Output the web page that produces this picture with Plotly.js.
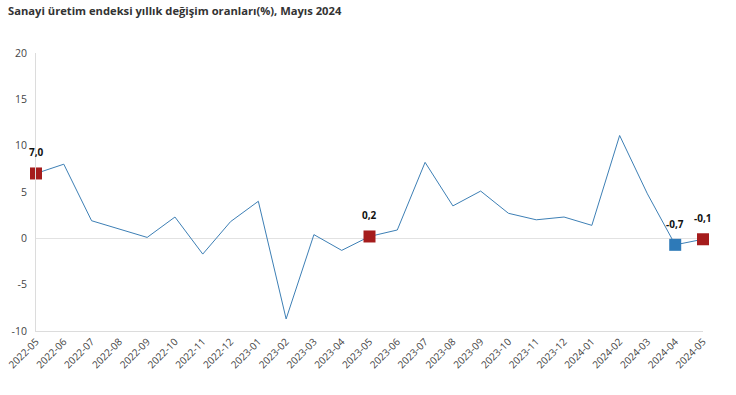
<!DOCTYPE html>
<html><head><meta charset="utf-8">
<script src="https://cdn.plot.ly/plotly-3.0.1.min.js"></script>
<style>html,body{margin:0;padding:0;background:#fff}#c{width:736px;height:395px}</style>
</head><body><div id="c"></div>
<script>
const months = ["2022-05","2022-06","2022-07","2022-08","2022-09","2022-10","2022-11","2022-12","2023-01","2023-02","2023-03","2023-04","2023-05","2023-06","2023-07","2023-08","2023-09","2023-10","2023-11","2023-12","2024-01","2024-02","2024-03","2024-04","2024-05"];
const values = [7.0,8.0,1.9,1.0,0.1,2.3,-1.7,1.8,4.0,-8.7,0.4,-1.3,0.2,0.9,8.2,3.5,5.1,2.7,2.0,2.3,1.4,11.1,4.8,-0.7,-0.1];
const highlightMonths = ["2022-05","2023-05","2024-04","2024-05"];
const highlightColors = ["#a51c1c","#a51c1c","#2e7ab8","#a51c1c"];
const yTicks = [-10,-5,0,5,10,15,20];

const hx = highlightMonths;
const hy = highlightMonths.map(m => values[months.indexOf(m)]);

const traces = [
  {x: months, y: values, type: 'scatter', mode: 'lines',
   line: {color: '#3d7fb5', width: 1}, hoverinfo: 'skip', cliponaxis: false},
  {x: hx, y: hy, type: 'scatter', mode: 'markers',
   marker: {symbol: 'square', size: 12, color: highlightColors},
   cliponaxis: false}
];

const annotations = hx.map((m, i) => ({
  x: m, y: hy[i], xref: 'x', yref: 'y',
  text: hy[i].toFixed(1).replace('.', ','), showarrow: false,
  yshift: 21, xanchor: 'center', yanchor: 'middle',
  font: {family: 'Open Sans, sans-serif', size: 10, color: '#111', weight: 'bold'}
}));

const layout = {
  width: 736, height: 395,
  margin: {l: 36, r: 33, t: 53, b: 64},
  paper_bgcolor: '#fff', plot_bgcolor: '#fff',
  showlegend: false,
  annotations: annotations,
  title: {text: 'Sanayi üretim endeksi yıllık değişim oranları(%), Mayıs 2024',
          font: {family: 'Open Sans, sans-serif', size: 11.2, color: '#333', weight: 'bold'},
          x: 0.011, xanchor: 'left', y: 0.972, yanchor: 'middle'},
  xaxis: {type: 'category', range: [0, months.length - 1], tickangle: -45,
          showgrid: false, zeroline: false, showline: true, linecolor: '#dcdcdc', linewidth: 1,
          ticks: '', tickfont: {family: 'Open Sans, sans-serif', size: 10, color: '#444'}},
  yaxis: {range: [-10, 20], tickvals: yTicks, ticktext: yTicks.map(String),
          showgrid: false, zeroline: true, zerolinecolor: '#e2e2e2', zerolinewidth: 1,
          showline: true, linecolor: '#dcdcdc', linewidth: 1, ticks: '', ticklabelstandoff: 6,
          tickfont: {family: 'Open Sans, sans-serif', size: 10.5, color: '#444'}}
};
Plotly.newPlot('c', traces, layout, {displayModeBar: false, staticPlot: true});
</script></body></html>
